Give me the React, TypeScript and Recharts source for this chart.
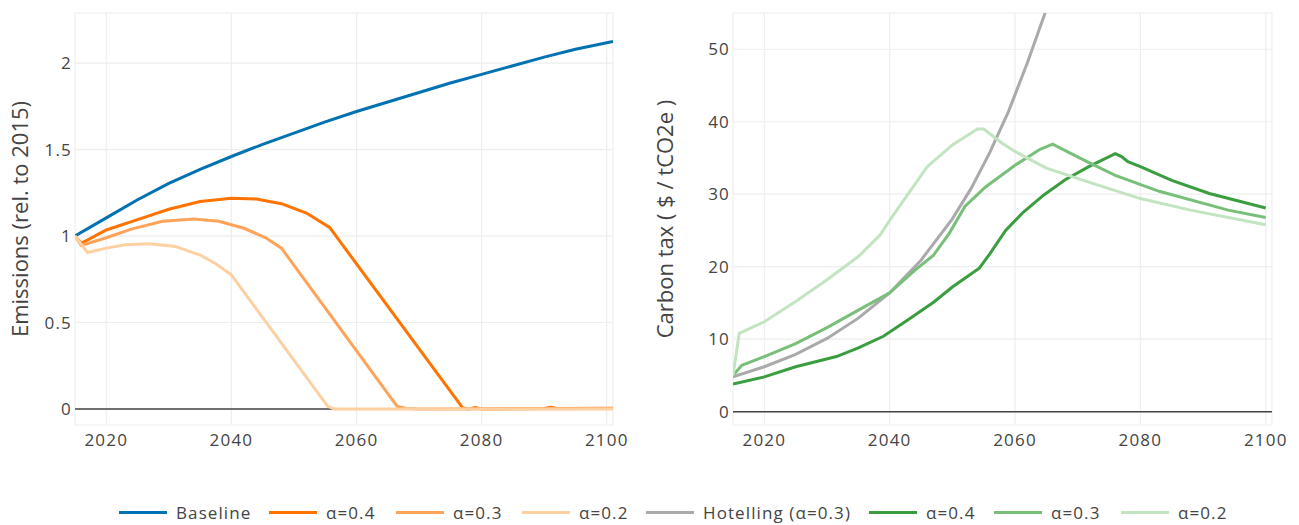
import { LineChart, Line, XAxis, YAxis, CartesianGrid, ReferenceLine } from 'recharts'

const FONT = '"Open Sans", sans-serif'
const TEXT = '#444'

const X_TICKS = [2020, 2040, 2060, 2080, 2100]
const EMISSION_TICKS = [0, 0.5, 1, 1.5, 2]
const TAX_TICKS = [0, 10, 20, 30, 40, 50]

// Emissions, relative to 2015
const BASELINE_YEARS = [2015, 2020, 2025, 2030, 2035, 2040, 2045, 2050, 2055, 2060, 2065, 2070, 2075, 2080, 2085, 2090, 2095, 2101]
const BASELINE = [1.0, 1.105, 1.21, 1.305, 1.385, 1.46, 1.53, 1.595, 1.66, 1.72, 1.775, 1.83, 1.885, 1.935, 1.985, 2.035, 2.08, 2.125]

const EM04_YEARS = [2015, 2016, 2020, 2025, 2030, 2035, 2040, 2044, 2048, 2052, 2055.7, 2077, 2078, 2079, 2080, 2090, 2091, 2092, 2101]
const EM04 = [1.0, 0.958, 1.035, 1.095, 1.155, 1.2, 1.218, 1.214, 1.187, 1.133, 1.05, 0.005, 0.0, 0.008, 0.0, 0.002, 0.01, 0.002, 0.004]

const EM03_YEARS = [2015, 2016, 2020, 2024, 2029, 2034, 2038, 2042, 2045.5, 2048, 2066.5, 2068, 2070, 2101]
const EM03 = [1.0, 0.945, 0.99, 1.04, 1.085, 1.098, 1.085, 1.045, 0.99, 0.93, 0.015, 0.003, 0.0, 0.002]

const EM02_YEARS = [2015, 2017, 2020, 2023, 2027, 2031, 2035, 2037.5, 2040, 2055.4, 2056.5, 2101]
const EM02 = [1.0, 0.905, 0.93, 0.95, 0.955, 0.94, 0.89, 0.84, 0.775, 0.015, 0.0, 0.0]

// Carbon tax, $ / tCO2e
const HOT_YEARS = [2015, 2020, 2025, 2030, 2035, 2040, 2045, 2050, 2053, 2056, 2059, 2062, 2065, 2068]
const HOTELLING = [4.8, 6.2, 7.9, 10.1, 12.9, 16.4, 20.9, 26.6, 30.8, 35.8, 41.5, 48.2, 55.5, 64]

const TAX04_YEARS = [2015, 2020, 2025, 2031.5, 2035, 2039, 2043, 2047, 2050, 2052, 2054.3, 2056, 2058.5, 2061.3, 2064.6, 2068, 2072, 2076, 2077, 2078, 2080, 2085, 2091, 2100]
const TAX04 = [3.8, 4.8, 6.2, 7.6, 8.8, 10.4, 12.7, 15.1, 17.2, 18.4, 19.8, 21.8, 25.0, 27.5, 29.9, 32.0, 33.9, 35.6, 35.2, 34.5, 33.8, 31.9, 30.1, 28.1]

const TAX03_YEARS = [2015, 2016.4, 2020, 2025, 2030, 2035, 2040, 2044, 2047, 2049.5, 2052, 2055.3, 2060, 2064, 2066, 2071, 2076, 2083, 2094, 2100]
const TAX03 = [5.0, 6.4, 7.6, 9.4, 11.6, 14.0, 16.4, 19.5, 21.6, 24.6, 28.3, 31.0, 34.0, 36.2, 36.9, 34.7, 32.6, 30.4, 27.8, 26.8]

const TAX02_YEARS = [2015, 2016, 2020, 2025, 2030, 2035, 2038.5, 2040, 2043, 2046, 2050, 2054, 2055, 2058, 2060, 2065, 2072, 2080, 2088, 2100]
const TAX02 = [5.0, 10.8, 12.4, 15.2, 18.2, 21.4, 24.4, 26.4, 30.1, 33.8, 36.8, 39.0, 39.0, 37.0, 35.9, 33.6, 31.6, 29.4, 27.8, 25.8]

const pts = (years: number[], vals: number[]) => years.map((year, i) => ({ year, v: vals[i] }))

const LEFT_SERIES = [
  { name: 'Baseline', color: '#0072b2', data: pts(BASELINE_YEARS, BASELINE) },
  { name: 'α=0.4', color: '#ff7300', data: pts(EM04_YEARS, EM04) },
  { name: 'α=0.3', color: '#fea35a', data: pts(EM03_YEARS, EM03) },
  { name: 'α=0.2', color: '#fdd0a2', data: pts(EM02_YEARS, EM02) },
]

const RIGHT_SERIES = [
  { name: 'Hotelling (α=0.3)', color: '#aaaaaa', data: pts(HOT_YEARS, HOTELLING) },
  { name: 'α=0.4', color: '#3a9d3f', data: pts(TAX04_YEARS, TAX04) },
  { name: 'α=0.3', color: '#78c07a', data: pts(TAX03_YEARS, TAX03) },
  { name: 'α=0.2', color: '#c2e4c0', data: pts(TAX02_YEARS, TAX02) },
]

// legend item left edges, page px
const LEGEND_X = [119, 269, 396, 522, 646, 869, 994, 1121]

const tickStyle = { fill: TEXT, fontSize: 17, fontFamily: FONT, letterSpacing: 1.2 }

function AxisTitle({ x, y, text }: { x: number; y: number; text: string }) {
  return (
    <text x={x} y={y} transform={`rotate(-90 ${x} ${y})`} textAnchor="middle"
      fill={TEXT} fontSize={22} fontFamily={FONT}>{text}</text>
  )
}

function Panel({ series, yDomain, yTicks, yWidth, right, title, titleX }: any) {
  return (
    <LineChart width={650} height={470} margin={{ top: 13, right, bottom: 15, left: 0 }}>
      <CartesianGrid stroke="#eee" strokeWidth={1.2} />
      <XAxis type="number" dataKey="year" domain={[2015, 2101]} ticks={X_TICKS} allowDataOverflow
        axisLine={false} tickLine={false} tickSize={0} tickMargin={9} height={30} tick={tickStyle} />
      <YAxis type="number" domain={yDomain} ticks={yTicks} allowDataOverflow width={yWidth}
        axisLine={false} tickLine={false} tickSize={0} tickMargin={3} tick={tickStyle}
        label={{ content: () => <AxisTitle x={titleX} y={219} text={title} /> }} />
      <ReferenceLine y={0} stroke="#444" strokeWidth={1.5} />
      {series.map((s: any) => (
        <Line key={s.name} data={s.data} dataKey="v" type="linear" stroke={s.color} strokeWidth={3}
          dot={false} activeDot={false} isAnimationActive={false} />
      ))}
    </LineChart>
  )
}

export default function App() {
  const legend = [...LEFT_SERIES, ...RIGHT_SERIES]
  return (
    <div style={{ position: 'absolute', left: 0, top: 0, width: 1299, height: 525, background: '#fff', fontFamily: FONT }}>
      <div style={{ position: 'absolute', left: 0, top: 0 }}>
        <Panel series={LEFT_SERIES} yDomain={[-0.093, 2.29]} yTicks={EMISSION_TICKS} yWidth={75} right={37}
          title="Emissions (rel. to 2015)" titleX={28} />
      </div>
      <div style={{ position: 'absolute', left: 650, top: 0 }}>
        <Panel series={RIGHT_SERIES} yDomain={[-1.84, 55]} yTicks={TAX_TICKS} yWidth={83} right={28}
          title="Carbon tax ( $ / tCO2e )" titleX={23} />
      </div>
      {legend.map((s, i) => (
        <div key={i} style={{ position: 'absolute', left: LEGEND_X[i], top: 500, height: 24, display: 'flex', alignItems: 'center', whiteSpace: 'nowrap' }}>
          <span style={{ display: 'inline-block', width: 48, height: 3, background: s.color }} />
          <span style={{ marginLeft: 9, fontSize: 17, letterSpacing: 1.1, color: TEXT }}>{s.name}</span>
        </div>
      ))}
    </div>
  )
}
